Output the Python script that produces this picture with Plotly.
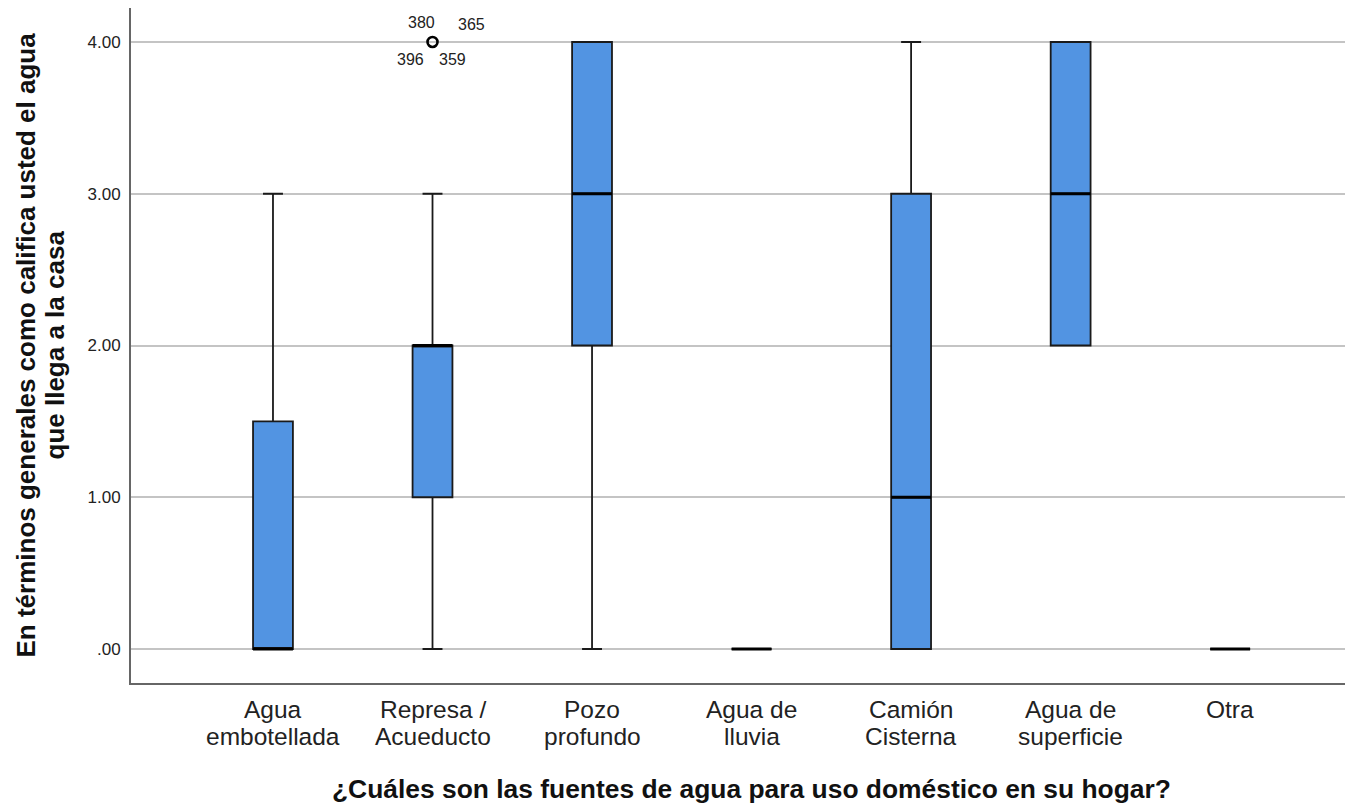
import plotly.graph_objects as go

categories = ["Agua<br>embotellada", "Represa /<br>Acueducto", "Pozo<br>profundo",
              "Agua de<br>lluvia", "Camión<br>Cisterna", "Agua de<br>superficie", "Otra"]
q1 = [0, 1, 2, 0, 0, 2, 0]
median = [0, 2, 3, 0, 1, 3, 0]
q3 = [1.5, 2, 4, 0, 3, 4, 0]
lower = [0, 0, 0, 0, 0, 2, 0]
upper = [3, 3, 4, 0, 4, 4, 0]

outlier_cat = [1]
outlier_val = [4]
outlier_ids = ["380", "365", "396", "359"]

ytickvals = [0, 1, 2, 3, 4]
yticktext = [".00", "1.00", "2.00", "3.00", "4.00"]

y_title_lines = ["En términos generales como califica usted el agua", "que llega a la casa"]
x_title = "¿Cuáles son las fuentes de agua para uso doméstico en su hogar?"

FONT = "Liberation Sans, Arial, sans-serif"
xs = list(range(len(categories)))

# page body adds an 8px offset; compensate so the plot lands where the reference has it
W, H = 1345, 796
ML, MT, MB, MR = 123, 0, 121, 0
PW = W - ML - MR

fig = go.Figure()
fig.add_trace(go.Box(
    x=xs, q1=q1, median=median, q3=q3, lowerfence=lower, upperfence=upper,
    width=0.25, whiskerwidth=0.5, fillcolor="#5294E2",
    line=dict(color="#1a1a1a", width=1.8), boxpoints=False, hoverinfo="skip",
    showlegend=False,
))
# thick median lines
fig.add_trace(go.Box(
    x=xs, q1=median, median=median, q3=median, lowerfence=median, upperfence=median,
    width=0.25, whiskerwidth=0, fillcolor="rgba(0,0,0,0)",
    line=dict(color="#000000", width=3), boxpoints=False, hoverinfo="skip",
    showlegend=False,
))
fig.add_trace(go.Scatter(
    x=outlier_cat, y=outlier_val, mode="markers",
    marker=dict(symbol="circle-open", size=10, color="#000000", line=dict(width=2.6)),
    showlegend=False, hoverinfo="skip",
))

# outlier case labels
shifts = [(-11, 19), (39, 17), (-22, -18), (20, -18)]
for lab, (dx, dy) in zip(outlier_ids, shifts):
    fig.add_annotation(x=outlier_cat[0], y=outlier_val[0], text=lab, showarrow=False,
                       xshift=dx, yshift=dy, xanchor="center", yanchor="middle",
                       font=dict(family=FONT, size=16, color="#222222"))

# category labels (two tight lines each)
for i, cat in enumerate(categories):
    for li, line in enumerate(cat.split("<br>")):
        fig.add_annotation(x=xs[i], y=0, xref="x", yref="paper", yanchor="top",
                           xanchor="center", text=line, showarrow=False,
                           yshift=-12 - 27 * li, borderpad=0,
                           font=dict(family=FONT, size=24.5, color="#222222"))

# x title
fig.add_annotation(x=3, y=-0.1568, xref="x", yref="paper", showarrow=False,
                   xanchor="center", yanchor="middle",
                   text="<b>" + x_title + "</b>",
                   font=dict(family=FONT, size=26.4, color="#111111"))

# y title (two lines)
for line, px in zip(y_title_lines, [25, 54]):
    fig.add_annotation(x=(px - 8 - ML) / PW, y=0.5, xref="paper", yref="paper",
                       xanchor="center", yanchor="middle",
                       showarrow=False, textangle=-90, text="<b>" + line + "</b>",
                       font=dict(family=FONT, size=26, color="#111111"))

fig.update_layout(
    width=W, height=H,
    margin=dict(l=ML, r=MR, t=MT, b=MB, pad=0),
    paper_bgcolor="white", plot_bgcolor="white",
    boxmode="overlay",
    font=dict(family=FONT, color="#222222"),
    xaxis=dict(
        range=[-0.89, 6.77], tickvals=xs, ticktext=[""] * len(xs),
        showgrid=False, zeroline=False, showline=True, linecolor="#666666", linewidth=2,
        ticks="", automargin=False,
    ),
    yaxis=dict(
        range=[-0.224, 4.224], tickvals=ytickvals, ticktext=yticktext,
        showgrid=True, gridcolor="#C4C4C4", gridwidth=1.6, zeroline=False,
        showline=True, linecolor="#666666", linewidth=2,
        ticks="outside", ticklen=5, tickcolor="rgba(0,0,0,0)",
        tickfont=dict(family=FONT, size=17, color="#222222"),
        automargin=False,
    ),
)

fig.write_html("out.html")
